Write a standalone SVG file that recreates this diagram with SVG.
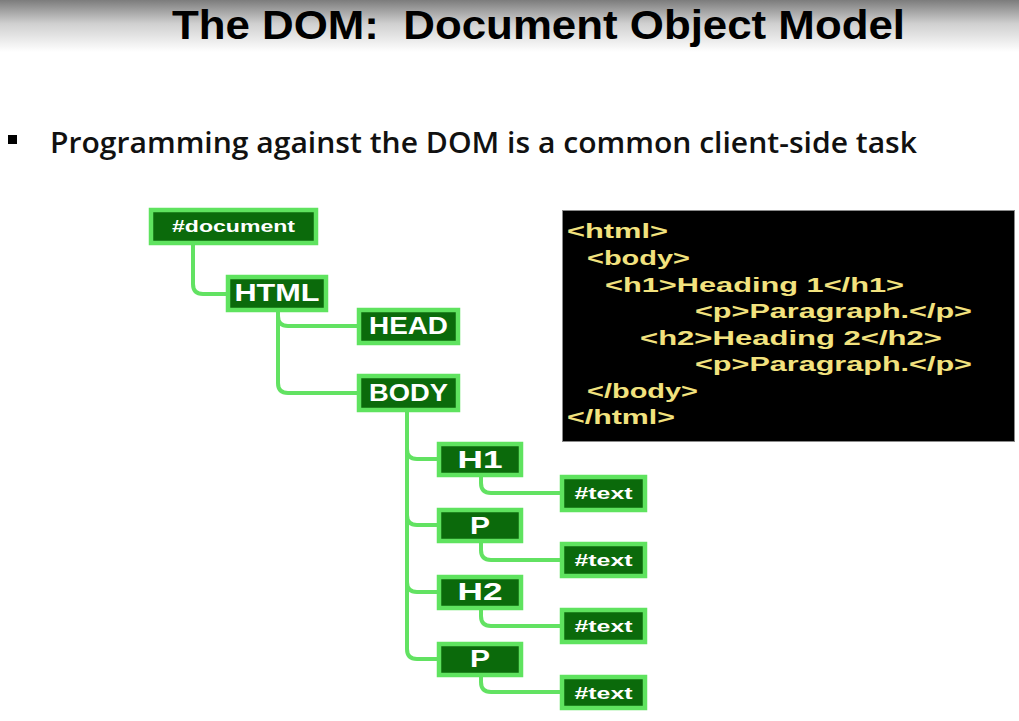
<svg xmlns="http://www.w3.org/2000/svg" width="1019" height="721" viewBox="0 0 1019 721">
<defs>
<linearGradient id="topg" x1="0" y1="0" x2="0" y2="1">
<stop offset="0" stop-color="#7c7c7c"/>
<stop offset="0.45" stop-color="#cfcfcf"/>
<stop offset="1" stop-color="#ffffff"/>
</linearGradient>
</defs>
<style>
.title{font-family:"Liberation Sans",Arial,sans-serif;font-weight:700;font-size:41px;fill:#000;white-space:pre}
.bullet{font-family:"Open Sans","Liberation Sans",sans-serif;font-weight:600;font-size:29px;fill:#111}
.node rect{fill:#0b6a0b;stroke:#5fe35f;stroke-width:4.5}
.node text{font-family:"Liberation Sans",Arial,sans-serif;font-weight:700;fill:#fff;text-anchor:middle}
.big{font-size:23px}
.small{font-size:16px}
.conn path{fill:none;stroke:#62e262;stroke-width:4;stroke-linecap:round}
.code{font-family:"Liberation Sans",Arial,sans-serif;font-weight:700;font-size:21px;fill:#f2e27e}
</style>
<rect x="0" y="0" width="1019" height="721" fill="#fff"/>
<rect x="0" y="0" width="1019" height="52" fill="url(#topg)"/>
<text class="title" x="172" y="39" textLength="733" lengthAdjust="spacingAndGlyphs" xml:space="preserve">The DOM:  Document Object Model</text>
<rect x="8" y="135" width="9" height="9" fill="#000"/>
<text class="bullet" x="50" y="153" textLength="867" lengthAdjust="spacingAndGlyphs">Programming against the DOM is a common client-side task</text>

<g id="connectors" class="conn">
<path d="M193 245 V284 Q193 294 203 294 H226"/>
<path d="M278 312 V316 Q278 326 288 326 H357"/>
<path d="M278 312 V383 Q278 393 288 393 H357"/>
<path d="M407 412 V649 Q407 659 417 659 H437"/>
<path d="M407 449 Q407 459 417 459 H437"/>
<path d="M407 515 Q407 525 417 525 H437"/>
<path d="M407 582 Q407 592 417 592 H437"/>
<path d="M481 477 V483 Q481 493 491 493 H560"/>
<path d="M481 543 V550 Q481 560 491 560 H560"/>
<path d="M481 610 V616 Q481 626 491 626 H560"/>
<path d="M481 677 V682 Q481 692 491 692 H560"/>
</g>

<g id="n-document" class="node"><rect x="151" y="210" width="165" height="33"/><text class="small" x="233.5" y="232" textLength="123" lengthAdjust="spacingAndGlyphs">#document</text></g>
<g id="n-html" class="node"><rect x="228" y="277" width="98" height="33"/><text class="big" x="277" y="301" textLength="85" lengthAdjust="spacingAndGlyphs">HTML</text></g>
<g id="n-head" class="node"><rect x="359" y="310" width="99" height="33"/><text class="big" x="408.5" y="334" textLength="79" lengthAdjust="spacingAndGlyphs">HEAD</text></g>
<g id="n-body" class="node"><rect x="359" y="376" width="99" height="34"/><text class="big" x="408.5" y="401" textLength="79" lengthAdjust="spacingAndGlyphs">BODY</text></g>
<g id="n-h1" class="node"><rect x="439" y="444" width="82" height="31"/><text class="big" x="480" y="468" textLength="45" lengthAdjust="spacingAndGlyphs">H1</text></g>
<g id="n-text1" class="node"><rect x="562" y="477" width="83" height="33"/><text class="small" x="603.5" y="499" textLength="58" lengthAdjust="spacingAndGlyphs">#text</text></g>
<g id="n-p1" class="node"><rect x="439" y="510" width="82" height="31"/><text class="big" x="480" y="534" textLength="20" lengthAdjust="spacingAndGlyphs">P</text></g>
<g id="n-text2" class="node"><rect x="562" y="544" width="83" height="32"/><text class="small" x="603.5" y="566" textLength="58" lengthAdjust="spacingAndGlyphs">#text</text></g>
<g id="n-h2" class="node"><rect x="439" y="577" width="82" height="31"/><text class="big" x="480" y="600" textLength="45" lengthAdjust="spacingAndGlyphs">H2</text></g>
<g id="n-text3" class="node"><rect x="562" y="610" width="83" height="32"/><text class="small" x="603.5" y="632" textLength="58" lengthAdjust="spacingAndGlyphs">#text</text></g>
<g id="n-p2" class="node"><rect x="439" y="644" width="82" height="31"/><text class="big" x="480" y="667" textLength="20" lengthAdjust="spacingAndGlyphs">P</text></g>
<g id="n-text4" class="node"><rect x="562" y="677" width="83" height="31"/><text class="small" x="603.5" y="699" textLength="58" lengthAdjust="spacingAndGlyphs">#text</text></g>

<g id="code-box">
<rect x="562.5" y="210.5" width="452" height="231" fill="#000" stroke="#8a8a8a" stroke-width="1"/>
<text class="code" x="567" y="238" textLength="101" lengthAdjust="spacingAndGlyphs">&lt;html&gt;</text>
<text class="code" x="587" y="265" textLength="103" lengthAdjust="spacingAndGlyphs">&lt;body&gt;</text>
<text class="code" x="605" y="292" textLength="299" lengthAdjust="spacingAndGlyphs">&lt;h1&gt;Heading 1&lt;/h1&gt;</text>
<text class="code" x="695" y="318" textLength="277" lengthAdjust="spacingAndGlyphs">&lt;p&gt;Paragraph.&lt;/p&gt;</text>
<text class="code" x="640" y="345" textLength="302" lengthAdjust="spacingAndGlyphs">&lt;h2&gt;Heading 2&lt;/h2&gt;</text>
<text class="code" x="695" y="371" textLength="277" lengthAdjust="spacingAndGlyphs">&lt;p&gt;Paragraph.&lt;/p&gt;</text>
<text class="code" x="587" y="398" textLength="111" lengthAdjust="spacingAndGlyphs">&lt;/body&gt;</text>
<text class="code" x="567" y="424" textLength="108" lengthAdjust="spacingAndGlyphs">&lt;/html&gt;</text>
</g>
</svg>
